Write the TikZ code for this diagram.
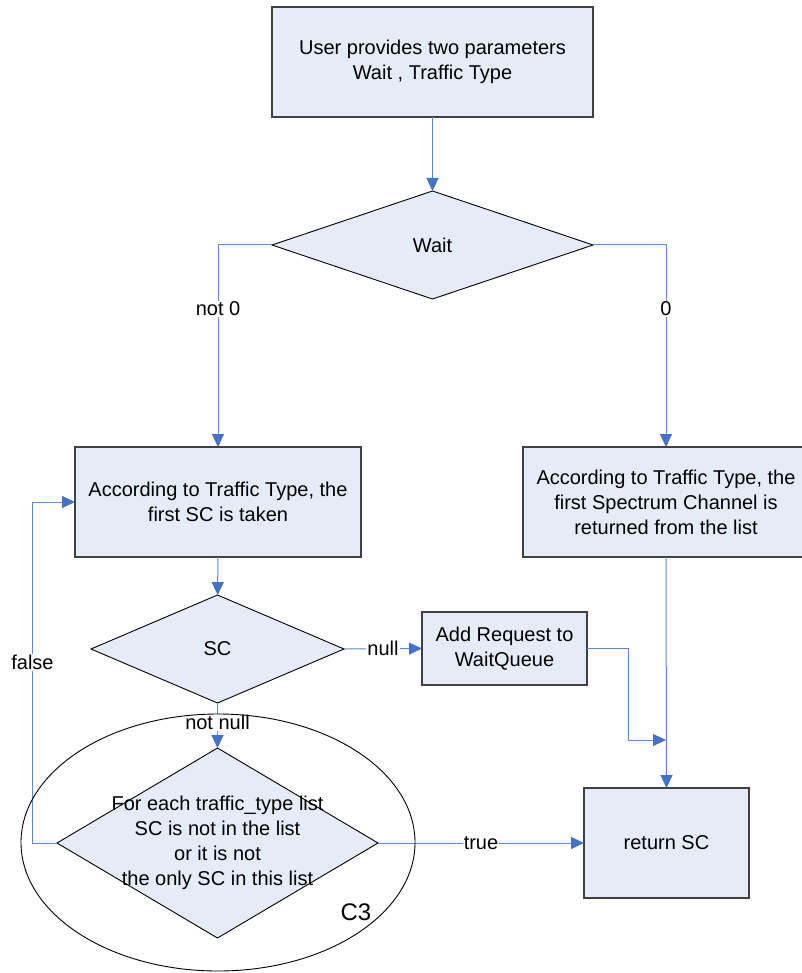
\documentclass[tikz,border=0pt]{standalone}
\usepackage{fontspec}
\setmainfont{Liberation Sans}
\usetikzlibrary{shapes.geometric,arrows.meta}
\definecolor{boxfill}{RGB}{230,236,247}
\definecolor{boxline}{RGB}{64,64,64}
\definecolor{flowline}{RGB}{95,138,210}
\definecolor{tipblue}{RGB}{68,114,196}
\tikzset{
  txt/.style={font=\fontsize{20}{25}\selectfont, align=center},
  box/.style={txt, draw=boxline, line width=1.3pt, fill=boxfill, outer sep=0pt, inner sep=0pt},
  dia/.style={diamond, draw=black, line width=0.9pt, fill=boxfill, outer sep=0pt, inner sep=0pt},
  arr/.style={draw=flowline, line width=1pt, -{Triangle[length=13pt,width=12pt,color=tipblue]}},
  lbl/.style={txt, fill=white, inner sep=1pt},
}
\begin{document}
\begin{tikzpicture}[x=1pt,y=-1pt]
\useasboundingbox (0,0) rectangle (801,973);
\fill[white] (0,0) rectangle (801,973);

% process boxes
\node[box, minimum width=321pt, minimum height=110pt] (top) at (432.5,62)
  {User provides two parameters\\Wait , Traffic Type};
\node[box, minimum width=286pt, minimum height=110pt] (lbox) at (218,502)
  {According to Traffic Type, the\\first SC is taken};
\node[box, minimum width=286pt, minimum height=110pt] (rbox) at (666,502)
  {According to Traffic Type, the\\first Spectrum Channel is\\returned from the list};
\node[box, minimum width=165pt, minimum height=73pt] (wq) at (504.5,648.5)
  {Add Request to\\WaitQueue};
\node[box, minimum width=165pt, minimum height=110pt] (ret) at (666.5,843)
  {return SC};

% decisions
\node[dia, minimum width=321pt, minimum height=108pt] (wait) at (432.5,245) {};
\node[txt] (waittxt) at (wait.center) {Wait};
\node[dia, minimum width=253pt, minimum height=108pt] (sc) at (217.5,649) {};
\node[txt] (sctxt) at (sc.center) {SC};
\node[dia, minimum width=321pt, minimum height=190pt] (c3) at (217.5,843) {};
\node[txt] (c3txt) at (c3.center)
  {For each traffic\_type list\\SC is not in the list\\or it is not\\the only SC in this list};

% junction on the line into "return SC"
\coordinate (j) at (666,740);

% connectors
\draw[arr] (top) -- (wait);
\draw[arr] (wait.west) -| node[lbl, pos=0.658] (lnot0) {not 0} (lbox.north);
\draw[arr] (wait.east) -| node[lbl, pos=0.658] (lzero) {0} (rbox.north);
\draw[arr] (lbox) -- (sc);
\draw[arr] (sc.east) -- node[lbl] (lnull) {null} (wq.west);
\draw[arr] (wq.east) -- ++(41,0) |- (j);
\draw[arr] (rbox.south) -- (ret.north);
\draw[arr] (sc.south) -- node[lbl, pos=0.44] (lnotnull) {not null} (c3.north);
\draw[arr] (c3.east) -- node[lbl] (ltrue) {true} (ret.west);
\draw[arr] (c3.west) -- ++(-24.5,0) |- node[lbl, pos=0.265] (lfalse) {false} (lbox.west);

% region C3
\draw[black, line width=0.9pt] (218,842.5) ellipse [x radius=197, y radius=128.5];
\node[font=\fontsize{24}{28}\selectfont] (c3name) at (356,912) {C3};
\end{tikzpicture}
\end{document}
